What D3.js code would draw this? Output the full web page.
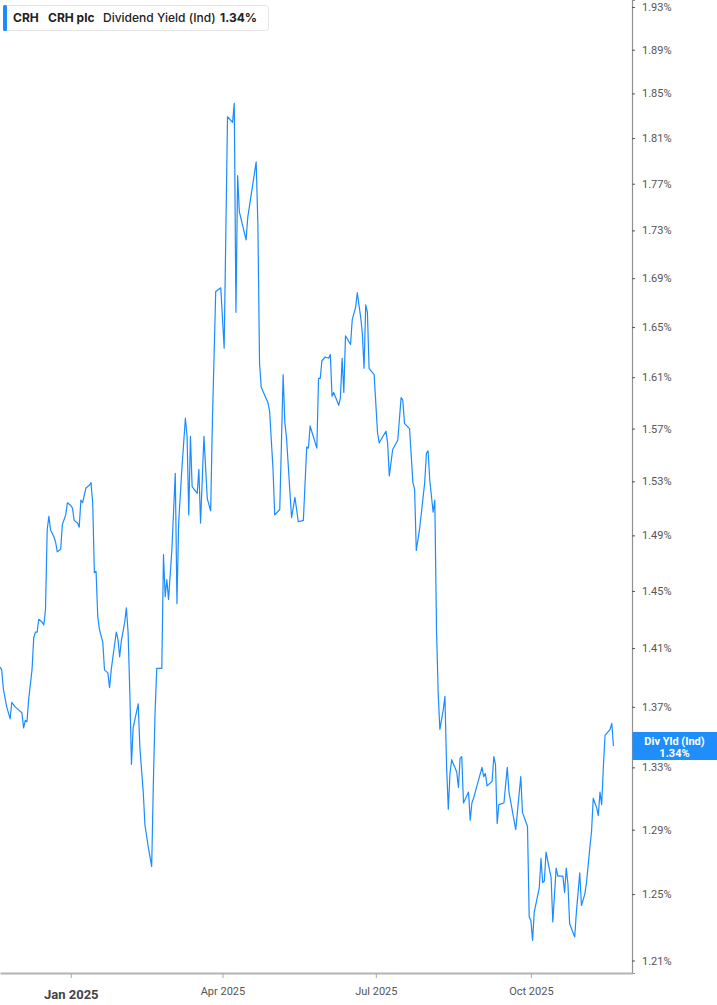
<!DOCTYPE html>
<html lang="en">
<head>
  <meta charset="UTF-8">
  <title>CRH Dividend Yield</title>
  <script src="https://d3js.org/d3.v7.min.js"></script>
  <style>
    body { margin: 0; background: #fff; overflow: hidden; }
    svg { display: block; }
  </style>
</head>
<body>
  <svg id="chart" width="717" height="1005"></svg>

  <script>
    // dividend yield (%)
    const dates = [
      "2024-11-20","2024-11-21","2024-11-22","2024-11-24","2024-11-26","2024-11-27","2024-11-29",
      "2024-12-01","2024-12-03","2024-12-04","2024-12-05","2024-12-06","2024-12-07","2024-12-09",
      "2024-12-10","2024-12-11","2024-12-12","2024-12-13","2024-12-15","2024-12-16","2024-12-17",
      "2024-12-18","2024-12-19","2024-12-20","2024-12-22","2024-12-23","2024-12-24","2024-12-25",
      "2024-12-26","2024-12-27","2024-12-29","2024-12-30",
      "2025-01-01","2025-01-02","2025-01-03","2025-01-05","2025-01-06","2025-01-07","2025-01-08",
      "2025-01-10","2025-01-12","2025-01-13","2025-01-14","2025-01-15","2025-01-16","2025-01-17",
      "2025-01-18","2025-01-20","2025-01-21","2025-01-23","2025-01-24","2025-01-25","2025-01-26",
      "2025-01-28","2025-01-29","2025-01-30","2025-01-31",
      "2025-02-02","2025-02-03","2025-02-04","2025-02-05","2025-02-06","2025-02-07","2025-02-10",
      "2025-02-11","2025-02-13","2025-02-14","2025-02-16","2025-02-18","2025-02-19","2025-02-20",
      "2025-02-21","2025-02-24","2025-02-25","2025-02-26","2025-02-27","2025-02-28",
      "2025-03-02","2025-03-04","2025-03-05","2025-03-06","2025-03-08","2025-03-10","2025-03-11",
      "2025-03-12","2025-03-13","2025-03-14","2025-03-17","2025-03-18","2025-03-19","2025-03-21",
      "2025-03-23","2025-03-25","2025-03-26","2025-03-28","2025-03-31",
      "2025-04-02","2025-04-04","2025-04-07","2025-04-08","2025-04-09","2025-04-10","2025-04-11",
      "2025-04-15","2025-04-16","2025-04-21","2025-04-22","2025-04-23","2025-04-24","2025-04-28",
      "2025-04-29",
      "2025-05-01","2025-05-02","2025-05-05","2025-05-07","2025-05-08","2025-05-09","2025-05-12",
      "2025-05-14","2025-05-16","2025-05-19","2025-05-21","2025-05-22","2025-05-23","2025-05-27",
      "2025-05-28","2025-05-29","2025-05-30",
      "2025-06-01","2025-06-03","2025-06-04","2025-06-05","2025-06-06","2025-06-09","2025-06-10",
      "2025-06-11","2025-06-12","2025-06-13","2025-06-16","2025-06-17","2025-06-19","2025-06-20",
      "2025-06-22","2025-06-23","2025-06-24","2025-06-25","2025-06-26","2025-06-27","2025-06-30",
      "2025-07-02","2025-07-03","2025-07-07","2025-07-08","2025-07-09","2025-07-11","2025-07-14",
      "2025-07-16","2025-07-17","2025-07-18","2025-07-21","2025-07-23","2025-07-24","2025-07-25",
      "2025-07-27","2025-07-30","2025-07-31",
      "2025-08-01","2025-08-02","2025-08-04","2025-08-05","2025-08-06","2025-08-07","2025-08-08",
      "2025-08-10","2025-08-11","2025-08-12","2025-08-13","2025-08-14","2025-08-15","2025-08-18",
      "2025-08-19","2025-08-20","2025-08-21","2025-08-22","2025-08-25","2025-08-26","2025-08-27",
      "2025-08-28","2025-08-30",
      "2025-09-02","2025-09-03","2025-09-04","2025-09-05","2025-09-08","2025-09-09","2025-09-10",
      "2025-09-11","2025-09-12","2025-09-15","2025-09-17","2025-09-18","2025-09-22","2025-09-25",
      "2025-09-26","2025-09-29","2025-09-30",
      "2025-10-01","2025-10-02","2025-10-03","2025-10-06","2025-10-07","2025-10-08","2025-10-09",
      "2025-10-10","2025-10-13","2025-10-14","2025-10-16","2025-10-17","2025-10-20","2025-10-21",
      "2025-10-22","2025-10-23","2025-10-24","2025-10-27","2025-10-28","2025-10-30","2025-10-31",
      "2025-11-02","2025-11-03","2025-11-05","2025-11-06","2025-11-07","2025-11-09","2025-11-10",
      "2025-11-11","2025-11-12","2025-11-13","2025-11-14","2025-11-17","2025-11-18","2025-11-19"
    ];

    const yields = [
      1.397,1.395,1.382,1.370,1.362,1.373,1.370,
      1.368,1.366,1.356,1.361,1.360,1.375,1.395,
      1.417,1.421,1.421,1.430,1.428,1.426,1.437,
      1.494,1.504,1.494,1.489,1.485,1.478,1.479,
      1.480,1.498,1.505,1.514,
      1.512,1.510,1.501,1.499,1.496,1.516,1.514,
      1.525,1.527,1.529,1.514,1.463,1.464,1.432,
      1.423,1.414,1.395,1.393,1.383,1.395,1.404,
      1.421,1.416,1.404,1.415,
      1.428,1.438,1.421,1.381,1.332,1.356,1.372,
      1.343,1.314,1.293,1.279,1.267,1.320,1.366,
      1.396,1.396,1.476,1.446,1.458,1.444,
      1.480,1.536,1.441,1.499,1.541,1.578,1.564,
      1.505,1.564,1.526,1.521,1.539,1.499,1.564,
      1.517,1.508,1.574,1.679,1.682,
      1.633,1.829,1.824,1.841,1.662,1.777,1.746,
      1.722,1.741,1.789,1.736,1.621,1.602,1.590,
      1.583,
      1.539,1.505,1.509,1.612,1.575,1.563,1.503,
      1.518,1.500,1.501,1.556,1.555,1.572,1.555,
      1.609,1.609,1.623,
      1.626,1.625,1.628,1.595,1.598,1.588,1.594,
      1.625,1.598,1.643,1.636,1.656,1.666,1.678,
      1.658,1.645,1.617,1.668,1.662,1.617,1.612,
      1.567,1.559,1.568,1.559,1.534,1.554,1.561,
      1.594,1.592,1.574,1.570,1.529,1.524,1.479,
      1.495,1.529,1.551,
      1.553,1.531,1.507,1.516,1.423,1.379,1.355,
      1.368,1.377,1.330,1.303,1.326,1.335,1.327,
      1.317,1.336,1.337,1.307,1.314,1.296,1.307,
      1.310,1.318,
      1.330,1.324,1.326,1.318,1.321,1.337,1.332,
      1.294,1.306,1.307,1.330,1.314,1.290,1.324,
      1.301,1.292,1.236,
      1.234,1.222,1.239,1.254,1.272,1.257,1.258,
      1.276,1.260,1.233,1.266,1.261,1.261,1.251,
      1.266,1.256,1.232,1.224,1.239,1.263,1.243,
      1.250,1.257,1.279,1.289,1.310,1.304,1.299,
      1.314,1.306,1.330,1.351,1.355,1.359,1.344
    ];

    const xTickDates = ["2025-01-01", "2025-04-01", "2025-07-01", "2025-10-01"];
    const xTickLabels = ["Jan 2025", "Apr 2025", "Jul 2025", "Oct 2025"];
    const yTicks = [1.21, 1.25, 1.29, 1.33, 1.37, 1.41, 1.45, 1.49, 1.53, 1.57,
                    1.61, 1.65, 1.69, 1.73, 1.77, 1.81, 1.85, 1.89, 1.93];

    const ticker = "CRH";
    const company = "CRH plc";
    const metric = "Dividend Yield (Ind)";
    const tagLabel = "Div Yld (Ind)";

    const parse = d3.utcParse("%Y-%m-%d");
    const data = dates.map((d, i) => ({ date: parse(d), value: yields[i] }));
    const last = data[data.length - 1];

    const plotW = 632, plotH = 973;
    const blue = "#1a8cff";

    const svg = d3.select("#chart");

    const x = d3.scaleUtc()
      .domain([parse("2024-11-20"), parse("2025-11-30")])
      .range([0, plotW]);

    const y = d3.scaleLog()
      .domain([1.2026, 1.9366])
      .range([plotH, 0]);

    // right axis
    const yAxis = d3.axisRight(y)
      .tickValues(yTicks)
      .tickSize(3)
      .tickPadding(7)
      .tickFormat(d => d3.format(".2f")(d) + "%");

    const gy = svg.append("g")
      .attr("transform", `translate(${plotW},0)`)
      .call(yAxis);
    gy.select(".domain").attr("stroke", "#8f8f8f").attr("stroke-width", 1.2);
    gy.selectAll(".tick line").attr("stroke", "#555");
    gy.selectAll(".tick text")
      .attr("fill", "#555")
      .attr("font-family", "Roboto, 'Liberation Sans', sans-serif")
      .attr("font-size", 11);

    // bottom axis
    const xAxis = d3.axisBottom(x)
      .tickValues(xTickDates.map(parse))
      .tickSize(5)
      .tickSizeOuter(0)
      .tickPadding(9)
      .tickFormat((d, i) => xTickLabels[i]);

    const gx = svg.append("g")
      .attr("transform", `translate(0,${plotH})`)
      .call(xAxis);
    gx.select(".domain").attr("stroke", "#b3b3b3").attr("stroke-width", 2);
    gx.selectAll(".tick line").attr("stroke", "#aaa");
    gx.selectAll(".tick text")
      .attr("fill", "#555")
      .attr("font-family", "Roboto, 'Liberation Sans', sans-serif")
      .attr("font-size", 11);
    gx.selectAll(".tick text")
      .filter((d, i) => i === 0)
      .attr("font-size", 13)
      .attr("font-weight", "bold")
      .attr("fill", "#444")
      .attr("dy", "0.95em");

    // the line
    const line = d3.line()
      .x(d => x(d.date))
      .y(d => y(d.value));

    svg.append("path")
      .datum(data)
      .attr("fill", "none")
      .attr("stroke", blue)
      .attr("stroke-width", 1.2)
      .attr("stroke-linejoin", "round")
      .attr("d", line);

    // last value tag on the axis
    const tagY = y(last.value);
    const tag = svg.append("g");
    tag.append("rect")
      .attr("x", plotW + 0.5)
      .attr("y", tagY - 14)
      .attr("width", 717 - plotW)
      .attr("height", 28)
      .attr("fill", "#1f8efa");
    tag.append("text")
      .attr("x", (plotW + 717) / 2)
      .attr("y", tagY - 1)
      .attr("text-anchor", "middle")
      .attr("fill", "#fff")
      .attr("font-family", "Roboto, 'Liberation Sans', sans-serif")
      .attr("font-weight", "bold")
      .attr("font-size", 11)
      .text(tagLabel);
    tag.append("text")
      .attr("x", (plotW + 717) / 2)
      .attr("y", tagY + 11)
      .attr("text-anchor", "middle")
      .attr("fill", "#fff")
      .attr("font-family", "Roboto, 'Liberation Sans', sans-serif")
      .attr("font-weight", "bold")
      .attr("font-size", 11)
      .text(d3.format(".2f")(last.value) + "%");

    // legend box
    const legend = svg.append("g");
    legend.append("rect")
      .attr("x", 3.5).attr("y", 5.5)
      .attr("width", 265).attr("height", 25)
      .attr("rx", 3)
      .attr("fill", "#fff")
      .attr("stroke", "#e4e4e4");
    legend.append("rect")
      .attr("x", 3).attr("y", 5)
      .attr("width", 4).attr("height", 26)
      .attr("rx", 1.5)
      .attr("fill", blue);

    const legendFont = "Inter, 'Noto Sans', sans-serif";
    const legendText = legend.append("text")
      .attr("y", 22)
      .attr("font-family", legendFont)
      .attr("font-size", 12)
      .attr("fill", "#222");
    legendText.append("tspan").attr("x", 13).attr("font-weight", "bold").text(ticker);
    legendText.append("tspan").attr("x", 48).attr("font-weight", "bold").text(company);
    legendText.append("tspan").attr("x", 103).attr("font-weight", 500).text(metric);
    legendText.append("tspan").attr("x", 220).attr("font-weight", "bold")
      .text(d3.format(".2f")(last.value) + "%");
  </script>
</body>
</html>
